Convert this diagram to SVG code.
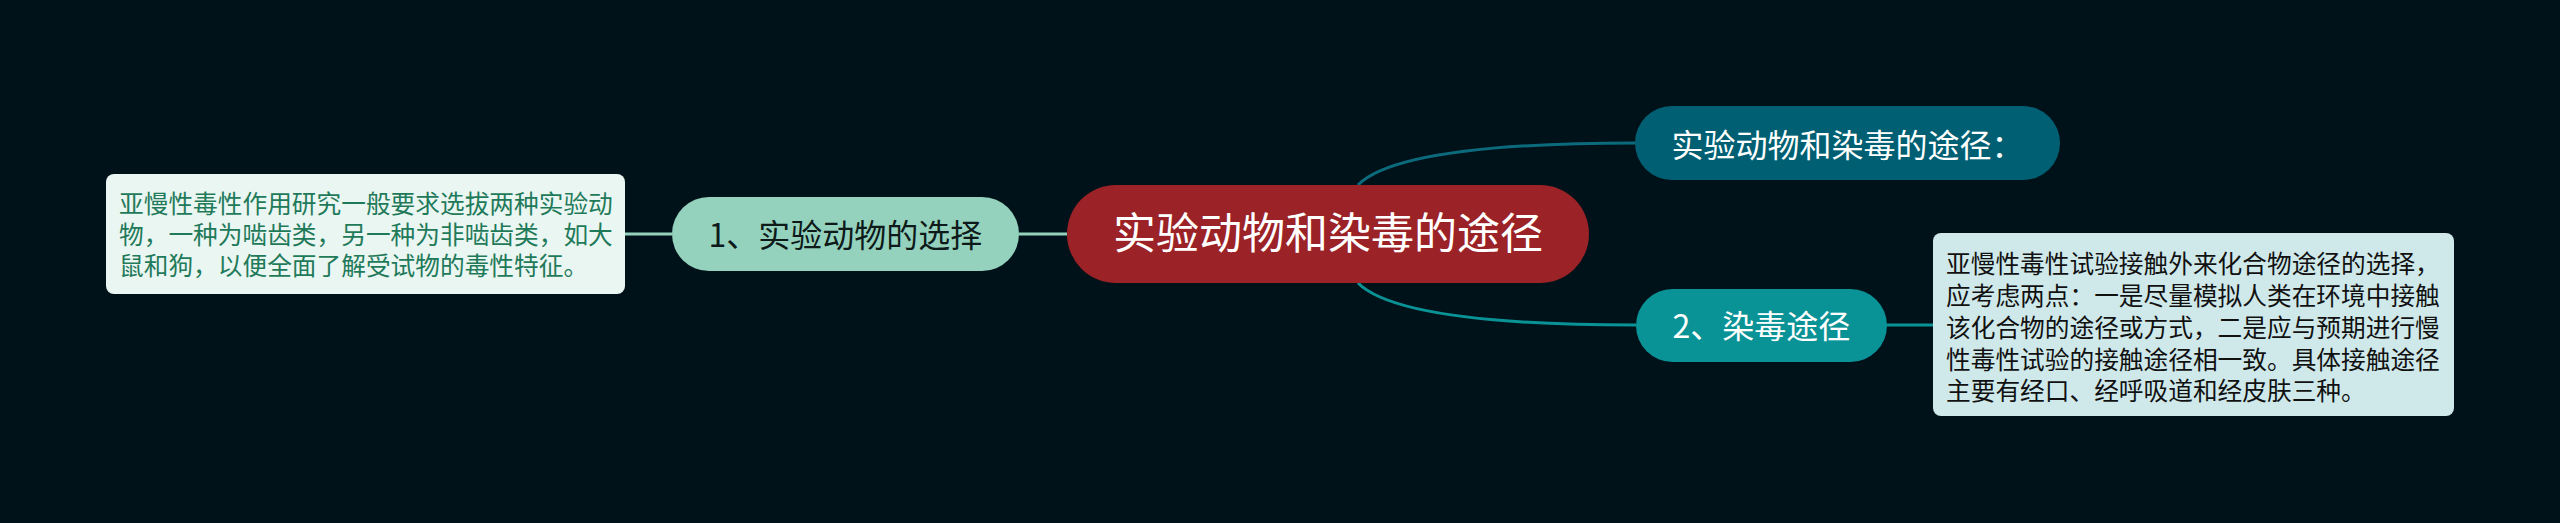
<svg xmlns="http://www.w3.org/2000/svg" width="2560" height="523" viewBox="0 0 2560 523">
<style>
text{font-family:"Noto Sans CJK SC","Noto Sans",sans-serif;}
.conn{fill:none;stroke-width:3;}
.main{font-size:43px;fill:#ffffff;}
.sub{font-size:32px;}
.note{font-size:24.7px;}
</style>
<rect x="0" y="0" width="2560" height="523" fill="#001219"/>
<g id="connectors">
<path class="conn" d="M1358 185 Q1400 143 1636 143" stroke="#0b6a7c"/>
<path class="conn" d="M1358 283 Q1400 325 1636 325" stroke="#0a9396"/>
<path class="conn" d="M1067 234 L1019 234" stroke="#94d2bd"/>
<path class="conn" d="M672 234 L625 234" stroke="#94d2bd"/>
<path class="conn" d="M1887 325 L1933 325" stroke="#0a9396"/>
</g>
<g id="root">
<rect x="1067" y="185" width="522" height="98" rx="49" fill="#9b2226"/>
<text class="main" x="1328" y="249" text-anchor="middle">实验动物和染毒的途径</text>
</g>
<g id="node-top">
<rect x="1635" y="106" width="425" height="74" rx="37" fill="#005f73"/>
<text class="sub" x="1847.5" y="157" text-anchor="middle" fill="#ffffff">实验动物和染毒的途径：</text>
</g>
<g id="node-1">
<rect x="672" y="197" width="347" height="74" rx="37" fill="#94d2bd"/>
<text class="sub" x="845.5" y="247" text-anchor="middle" fill="#0e1a1a">1、实验动物的选择</text>
</g>
<g id="node-2">
<rect x="1636" y="289" width="251" height="73" rx="36.5" fill="#0a9396"/>
<text class="sub" x="1761.5" y="338" text-anchor="middle" fill="#ffffff">2、染毒途径</text>
</g>
<g id="note-1">
<rect x="106" y="174" width="519" height="120" rx="8" fill="#eaf6f2"/>
<text class="note" fill="#1f7a5a">
<tspan x="119" y="213.4">亚慢性毒性作用研究一般要求选拔两种实验动</tspan>
<tspan x="119" y="244.4">物，一种为啮齿类，另一种为非啮齿类，如大</tspan>
<tspan x="119" y="275.4">鼠和狗，以便全面了解受试物的毒性特征。</tspan>
</text>
</g>
<g id="note-2">
<rect x="1933" y="233" width="521" height="183" rx="8" fill="#cfe9ea"/>
<text class="note" fill="#111111">
<tspan x="1946" y="273.4">亚慢性毒性试验接触外来化合物途径的选择，</tspan>
<tspan x="1946" y="305.1">应考虑两点：一是尽量模拟人类在环境中接触</tspan>
<tspan x="1946" y="336.8">该化合物的途径或方式，二是应与预期进行慢</tspan>
<tspan x="1946" y="368.5">性毒性试验的接触途径相一致。具体接触途径</tspan>
<tspan x="1946" y="400.2">主要有经口、经呼吸道和经皮肤三种。</tspan>
</text>
</g>
</svg>
